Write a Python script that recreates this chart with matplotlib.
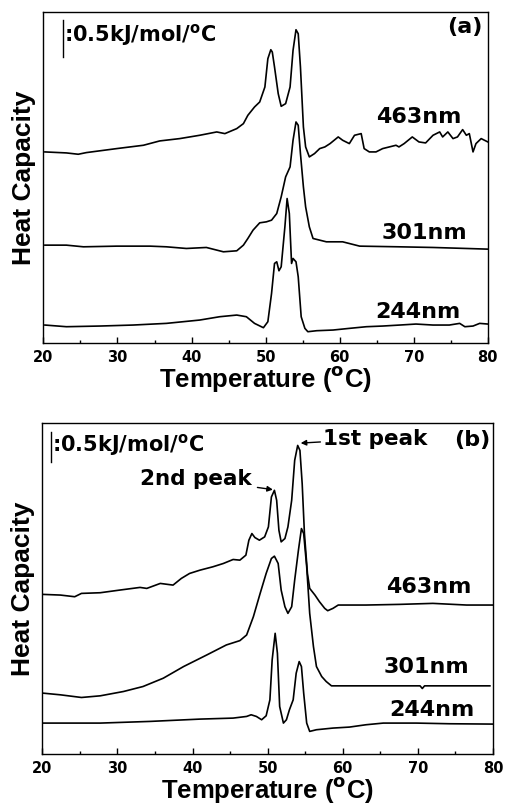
import matplotlib
matplotlib.use("Agg")
import matplotlib.pyplot as plt

plt.rcParams['font.family'] = ['DejaVu Sans']
plt.rcParams['font.weight'] = 'bold'
plt.rcParams['mathtext.fontset'] = 'custom'
plt.rcParams['mathtext.rm'] = 'DejaVu Sans:bold'
plt.rcParams['mathtext.default'] = 'rm'

# panel (a) curves: temperature (C) and heat capacity (arbitrary, offset units)
a463_t = [20.2, 23.1, 24.7, 25.8, 29.9, 33.5, 35.7, 38.4, 41.1, 43.4, 44.5, 46.1, 47.0, 47.6,
          48.5, 49.2, 49.9, 50.3, 50.7, 50.9, 51.2, 51.7, 52.1, 52.7, 53.3, 53.7, 54.1, 54.4,
          54.7, 55.1, 55.4, 55.9, 56.6, 57.3, 58.0, 58.7, 59.8, 60.4, 61.3, 62.0, 62.9, 63.3,
          64.0, 64.9, 65.8, 66.7, 67.6, 68.0, 68.7, 69.8, 70.7, 71.6, 72.6, 73.5, 73.9, 74.6,
          75.3, 75.9, 76.6, 77.1, 77.5, 78.0, 78.4, 79.1, 80.0]
a463_v = [575, 572, 568, 573, 585, 595, 608, 615, 625, 635, 630, 645, 660, 685,
          710, 725, 770, 855, 882, 875, 830, 750, 712, 720, 770, 880, 942, 930,
          830, 650, 590, 560, 570, 585, 590, 600, 620, 610, 600, 625, 630, 585,
          575, 575, 585, 590, 595, 590, 600, 620, 605, 602, 625, 635, 620, 635,
          615, 620, 642, 625, 630, 575, 600, 615, 605]

a301_t = [20.2, 23.1, 25.4, 29.9, 34.4, 36.6, 39.3, 42.0, 44.3, 46.1, 47.0, 47.6, 48.3, 49.2,
          50.1, 50.8, 51.5, 52.1, 52.7, 53.3, 53.7, 54.1, 54.4, 54.7, 55.1, 55.4, 55.9, 56.4,
          58.2, 60.4, 62.7, 68.0, 72.6, 77.1, 80.0]
a301_v = [295, 295, 290, 292, 292, 290, 285, 288, 275, 278, 295, 315, 340, 362,
          365, 370, 390, 440, 500, 530, 610, 665, 655, 570, 470, 410, 350, 315,
          305, 305, 292, 290, 288, 285, 283]

a244_t = [20.2, 23.1, 27.6, 32.1, 36.6, 41.1, 43.8, 46.1, 47.4, 48.5, 49.7, 50.3, 50.8, 51.2,
          51.5, 51.8, 52.1, 52.6, 52.9, 53.2, 53.5, 53.7, 54.1, 54.4, 54.8, 55.3, 55.7, 56.9,
          59.1, 61.3, 63.6, 65.8, 68.1, 70.3, 72.6, 74.8, 76.2, 76.9, 78.0, 78.9, 80.0]
a244_v = [55, 50, 52, 55, 60, 70, 80, 85, 80, 60, 47, 65, 150, 240,
          245, 218, 230, 350, 435, 390, 240, 255, 245, 200, 80, 45, 35, 38,
          40, 45, 50, 52, 55, 58, 55, 55, 60, 50, 52, 60, 58]

# panel (b) curves
b463_t = [20.1, 22.4, 24.3, 25.2, 27.7, 30.3, 33.0, 33.9, 35.7, 37.4, 38.5, 39.6, 41.0, 42.7,
          44.1, 45.4, 46.3, 47.1, 47.5, 47.9, 48.3, 48.9, 49.6, 50.1, 50.5, 50.9, 51.2, 51.5,
          51.8, 52.3, 52.7, 53.2, 53.6, 54.0, 54.3, 54.6, 54.9, 55.3, 55.6, 56.3, 56.9, 57.6,
          58.0, 58.7, 59.4, 63.1, 67.6, 72.0, 76.5, 80.0]
b463_v = [480, 478, 473, 483, 485, 493, 501, 498, 513, 508, 528, 543, 553, 563,
          573, 585, 583, 598, 643, 663, 651, 643, 653, 683, 773, 793, 763, 673,
          638, 648, 683, 763, 883, 928, 913, 813, 663, 543, 498, 478, 458, 438,
          431, 438, 448, 448, 450, 453, 448, 448]

b301_t = [20.1, 22.4, 25.2, 27.7, 30.8, 33.4, 36.1, 38.8, 41.9, 44.5, 46.3, 47.2, 48.1, 49.0,
          49.8, 50.5, 50.9, 51.4, 51.8, 52.3, 52.7, 53.2, 53.6, 54.1, 54.5, 54.8, 55.2, 55.6,
          56.1, 56.5, 57.2, 57.8, 58.5, 63.1, 70.3, 70.6, 70.9, 79.6]
b301_v = [183, 178, 170, 175, 188, 203, 228, 263, 298, 328, 341, 358, 413, 483,
          543, 588, 595, 573, 493, 443, 423, 443, 523, 613, 678, 663, 563, 423,
          323, 263, 233, 218, 205, 205, 205, 197, 205, 205]

b244_t = [20.1, 27.7, 34.3, 41.0, 45.4, 47.2, 47.8, 48.5, 49.2, 49.8, 50.3, 50.6, 51.0, 51.3,
          51.6, 52.1, 52.5, 52.9, 53.4, 53.8, 54.2, 54.5, 54.8, 55.2, 55.6, 56.5, 58.7, 60.9,
          63.1, 65.4, 69.8, 74.2, 80.0]
b244_v = [93, 93, 98, 105, 108, 113, 118, 113, 103, 115, 163, 283, 363, 303,
          143, 93, 103, 133, 163, 243, 278, 263, 183, 93, 68, 73, 78, 81,
          88, 93, 93, 91, 90]

fig = plt.figure(figsize=(5.05, 8.06), dpi=100)
ax_a = fig.add_axes([0.086, 0.574, 0.880, 0.411])
ax_b = fig.add_axes([0.084, 0.0645, 0.892, 0.4105])

lw = 1.2
ax_a.plot(a463_t, a463_v, color='black', lw=lw)
ax_a.plot(a301_t, a301_v, color='black', lw=lw)
ax_a.plot(a244_t, a244_v, color='black', lw=lw)
ax_b.plot(b463_t, b463_v, color='black', lw=lw)
ax_b.plot(b301_t, b301_v, color='black', lw=lw)
ax_b.plot(b244_t, b244_v, color='black', lw=lw)

for ax in (ax_a, ax_b):
    ax.set_xlim(20, 80)
    ax.set_ylim(0, 995)
    ax.set_xticks([20, 30, 40, 50, 60, 70, 80])
    ax.set_xticks([25, 35, 45, 55, 65, 75], minor=True)
    ax.set_yticks([])
    ax.tick_params(axis='x', direction='in', length=4, width=1, labelsize=10.5, pad=5)
    ax.tick_params(axis='x', which='minor', direction='in', length=2.5, width=1)
    for s in ax.spines.values():
        s.set_linewidth(1.0)
    ax.set_xlabel(r'Temperature ($^{\rm o}$C)', fontsize=18.5, fontweight='bold',
                  family='Liberation Sans', labelpad=-1)
    ax.set_ylabel('Heat Capacity', fontsize=19, fontweight='bold', family='Liberation Sans',
                  labelpad=5, y=0.5)

# panel (a) annotations
ax_a.plot([22.6, 22.6], [860, 970], color='black', lw=1.0)
ax_a.text(22.8, 925, r':0.5kJ/mol/$^{\rm o}$C', fontsize=15, fontweight='bold', va='center')
ax_a.text(79.3, 950, '(a)', fontsize=16, fontweight='bold', ha='right', va='center')
ax_a.text(70.7, 680, '463nm', fontsize=16, fontweight='bold', ha='center', va='center')
ax_a.text(71.5, 330, '301nm', fontsize=16, fontweight='bold', ha='center', va='center')
ax_a.text(70.6, 95, '244nm', fontsize=16, fontweight='bold', ha='center', va='center')

# panel (b) annotations
ax_b.plot([21.1, 21.1], [878, 968], color='black', lw=1.0)
ax_b.text(21.3, 928, r':0.5kJ/mol/$^{\rm o}$C', fontsize=15, fontweight='bold', va='center')
ax_b.text(79.6, 945, '(b)', fontsize=16, fontweight='bold', ha='right', va='center')
ax_b.annotate('1st peak', xy=(54.4, 935), xytext=(57.4, 948), fontsize=15.5, fontweight='bold',
              va='center', arrowprops=dict(arrowstyle='-|>', color='black', lw=1.0,
                                           mutation_scale=8, shrinkA=0, shrinkB=0))
ax_b.annotate('2nd peak', xy=(50.7, 795), xytext=(47.9, 828), fontsize=15.5, fontweight='bold',
              ha='right', va='center', arrowprops=dict(arrowstyle='-|>', color='black', lw=1.0,
                                                      mutation_scale=8, shrinkA=2, shrinkB=0))
ax_b.text(71.5, 503, '463nm', fontsize=16, fontweight='bold', ha='center', va='center')
ax_b.text(71.1, 263, '301nm', fontsize=16, fontweight='bold', ha='center', va='center')
ax_b.text(71.9, 133, '244nm', fontsize=16, fontweight='bold', ha='center', va='center')

fig.savefig('out.png', dpi=100)
